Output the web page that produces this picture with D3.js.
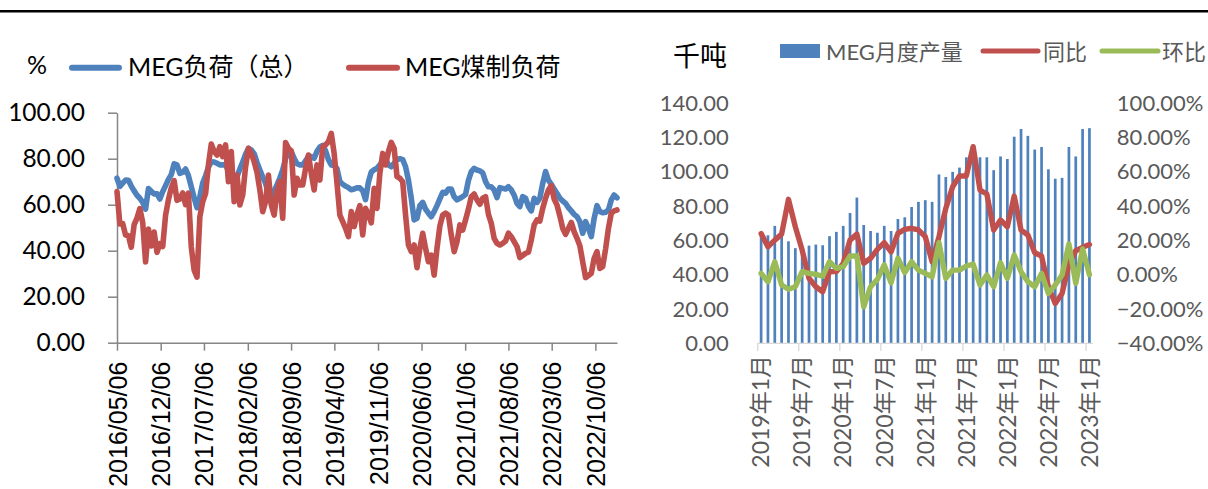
<!DOCTYPE html>
<html><head><meta charset="utf-8">
<script src="https://cdn.jsdelivr.net/npm/d3@7/dist/d3.min.js"></script>
<style>body{margin:0;background:#fff}svg{display:block}</style></head>
<body><svg id="c" width="1208" height="489"></svg>
<script>
// ---------- Left chart data (biweekly, from 2016/05/06) ----------
const leftStart = "2016-05-06";
const leftStepDays = 14;
const loadTotal = [71.5,68.0,69.4,70.7,70.6,68.1,66.0,64.1,62.8,61.0,58.1,67.0,65.8,64.7,64.7,62.5,65.7,68.3,71.0,73.1,77.8,77.3,73.6,74.1,75.5,72.6,67.8,62.9,58.7,63.5,69.4,72.6,76.3,78.7,78.6,78.0,77.3,77.3,77.3,74.8,72.8,70.7,72.2,75.5,78.6,81.9,84.5,83.8,82.2,78.4,75.1,72.0,69.3,64.7,62.8,66.0,68.6,71.6,75.1,
80.0,83.0,83.0,80.2,77.8,77.3,77.3,79.1,80.9,80.9,80.2,83.2,85.1,85.8,83.4,79.6,77.3,77.0,75.7,70.0,68.9,68.1,67.4,66.5,66.8,67.4,67.3,66.1,62.2,69.9,74.2,75.2,75.8,77.3,78.7,79.9,77.3,76.5,78.0,79.6,80.0,79.6,76.5,70.7,62.8,53.4,54.1,59.6,61.0,58.1,56.3,54.8,57.0,59.6,62.5,65.4,65.0,66.8,66.8,63.5,
62.1,62.8,63.5,64.5,70.6,74.4,75.8,75.1,74.7,73.9,70.0,67.8,67.8,66.4,63.1,67.4,67.1,66.8,67.8,66.4,64.2,60.6,59.2,63.5,62.8,59.2,57.3,62.8,61.0,62.8,69.3,74.4,70.7,68.9,66.8,64.9,62.8,61.6,60.6,58.7,57.3,55.8,54.8,52.6,47.6,52.6,49.7,46.1,54.1,59.6,57.0,56.5,56.7,57.7,62.1,64.2,63.0];
const loadCoal = [65.7,51.6,51.8,46.8,46.5,41.5,51.3,54.2,58.3,52.2,35.1,49.4,42.1,48.1,39.3,43.1,41.8,55.4,62.2,67.3,70.5,61.9,62.5,65.1,60.0,65.0,41.6,31.5,28.5,54.8,61.3,64.8,77.3,86.4,83.1,81.6,85.2,80.9,86.0,70.0,83.1,61.3,72.9,59.9,64.2,76.5,84.5,82.3,78.7,74.1,66.4,57.0,61.3,72.9,59.9,55.5,65.7,70.0,54.1,
87.0,84.5,83.4,64.2,71.5,68.6,68.6,75.8,81.6,73.6,66.4,77.3,70.7,85.2,86.0,87.4,91.0,82.3,69.3,55.5,52.6,49.7,46.1,57.0,50.5,55.8,59.6,46.8,58.4,55.8,52.1,67.1,58.4,73.6,82.3,77.3,83.1,87.1,84.5,72.2,71.5,70.0,55.5,42.5,39.6,42.5,32.6,41.0,47.6,41.0,35.2,38.1,29.4,41.0,50.7,55.5,56.3,55.5,46.8,39.6,
43.9,51.2,49.0,53.4,58.1,63.5,64.7,62.1,60.2,62.8,63.5,55.8,51.9,45.4,43.2,42.5,43.2,44.2,47.6,46.1,43.9,41.8,37.0,37.9,38.9,39.4,44.7,51.2,53.4,52.9,58.4,62.8,66.4,68.3,62.5,59.9,55.1,49.7,47.1,49.7,52.3,48.3,45.4,42.2,35.2,28.3,29.2,30.2,36.7,39.6,32.3,33.1,40.7,49.7,56.3,57.3,57.7];
const leftTickLabels = ["2016/05/06","2016/12/06","2017/07/06","2018/02/06","2018/09/06","2019/04/06","2019/11/06","2020/06/06","2021/01/06","2021/08/06","2022/03/06","2022/10/06"];
const leftYTicks = [0,20,40,60,80,100];

// ---------- Right chart data (monthly, 2019-01 .. 2023-01) ----------
const months = [];
for (let y = 2019; y <= 2023; y++) for (let m = 1; m <= 12; m++) { if (y === 2023 && m > 1) break; months.push(y + "年" + m + "月"); }
const output = [64,63,68.5,64.4,59.5,55.5,56.5,57,57.6,57.2,62.5,65,68.5,76,85,69,65.5,64.5,68.5,65.5,72.5,73.5,79.5,82.5,83.5,82.5,98.5,97,100,102.5,108.5,114.5,108.5,108.5,101,109,107.5,120.5,125,121,113,114.5,101.5,96,96.5,114.5,109,125,125.5];
const yoy = [24,16.3,20.2,23.7,44,28,14.4,-2.1,-7,-9.9,1.8,1.8,6.6,20.2,23.7,6.6,9.6,14.8,18.7,13.4,24.1,26.5,27.1,26.1,22.2,7.6,22.2,38.7,51.3,57.6,57.6,74.7,49.4,47.1,26.1,31.9,28,45.9,26.1,23.2,12.8,10.9,-7,-16.7,-10.9,6,14,16,17.6];
const mom = [0.8,-4.1,7.6,-6,-8.5,-7,1.8,0.8,0.2,-0.8,7.6,3.7,4.7,10.9,10.9,-18.7,-7,-2.7,5.7,-4.7,9.6,1.2,7.6,2.7,0.8,-1.2,18.7,-2.1,2.7,2.7,5.1,6.2,-6,-0.2,-7,7,-2.1,11.5,1.8,-4.1,-7,0.8,-10.9,-6,-0.2,18,-5,15,0];
const rightTickLabels = ["2019年1月","2019年7月","2020年1月","2020年7月","2021年1月","2021年7月","2022年1月","2022年7月","2023年1月"];
const rightYLeftTicks = [0,20,40,60,80,100,120,140];
const rightYRightTicks = [-40,-20,0,20,40,60,80,100];

// ---------- Styles ----------
const BLUE = "#4F81BD", RED = "#C0504D", GREEN = "#9BBB59";
const FONT = "Lato, 'Noto Sans CJK SC', sans-serif";
const CJK = "'Noto Sans CJK SC', sans-serif";

const svg = d3.select("#c");

// top rule
svg.append("line").attr("x1",0).attr("x2",1208).attr("y1",11.2).attr("y2",11.2)
  .attr("stroke","#000").attr("stroke-width",2.6);

// ===== LEFT CHART =====
const parse = d3.timeParse("%Y-%m-%d");
const parseTick = d3.timeParse("%Y/%m/%d");
const t0 = parse(leftStart);
const leftDates = loadTotal.map((_, i) => d3.timeDay.offset(t0, i * leftStepDays));
const xL = d3.scaleTime().domain([t0, leftDates[leftDates.length-1]]).range([117, 617]);
const yL = d3.scaleLinear().domain([0,100]).range([342.7,112.7]);

const gLy = svg.append("g").attr("transform","translate(117,0)")
  .call(d3.axisLeft(yL).tickValues(leftYTicks).tickFormat(d3.format(".2f")).tickSize(9).tickSizeOuter(0).tickPadding(23));
gLy.select(".domain").attr("stroke","#868686").attr("stroke-width",1.5);
gLy.selectAll(".tick line").attr("stroke","#868686").attr("stroke-width",1.5);
gLy.selectAll("text").attr("font-family",FONT).attr("font-size",24.5).attr("fill","#000");

const gLx = svg.append("g").attr("transform","translate(0,342.7)")
  .call(d3.axisBottom(xL).tickValues(leftTickLabels.map(s=>parseTick(s))).tickSize(8).tickSizeOuter(0)
    .tickFormat((d,i)=>leftTickLabels[i]));
gLx.select(".domain").attr("stroke","#868686").attr("stroke-width",1.5);
gLx.selectAll(".tick line").attr("stroke","#868686").attr("stroke-width",1.5);
gLx.selectAll("text").attr("font-family","'Liberation Sans', Arial, sans-serif").attr("font-size",25).attr("fill","#000")
  .attr("text-anchor","end").attr("transform","translate(0,19) rotate(-90)").attr("dy","0.36em").attr("y",0).attr("x",0);

const lineL = vals => d3.line().x((d,i)=>xL(leftDates[i])).y(d=>yL(d))(vals);
svg.append("path").attr("d",lineL(loadTotal)).attr("fill","none").attr("stroke",BLUE)
  .attr("stroke-width",5.6).attr("stroke-linejoin","round").attr("stroke-linecap","round");
svg.append("path").attr("d",lineL(loadCoal)).attr("fill","none").attr("stroke",RED)
  .attr("stroke-width",5.6).attr("stroke-linejoin","round").attr("stroke-linecap","round");

// left legend
svg.append("text").attr("x",27).attr("y",64).attr("dominant-baseline","central")
  .attr("font-family",FONT).attr("font-size",25).text("%");
svg.append("line").attr("x1",72).attr("x2",119).attr("y1",67.7).attr("y2",67.7)
  .attr("stroke",BLUE).attr("stroke-width",6).attr("stroke-linecap","round");
svg.append("text").attr("x",128).attr("y",66).attr("dominant-baseline","central")
  .attr("font-family",FONT).attr("font-size",25).text("MEG负荷（总）");
svg.append("line").attr("x1",349).attr("x2",397).attr("y1",67.7).attr("y2",67.7)
  .attr("stroke",RED).attr("stroke-width",6).attr("stroke-linecap","round");
svg.append("text").attr("x",405).attr("y",66).attr("dominant-baseline","central")
  .attr("font-family",FONT).attr("font-size",25).text("MEG煤制负荷");

// ===== RIGHT CHART =====
const xR = d3.scaleBand().domain(months).range([757.7, 757.7 + months.length*6.84]).padding(0);
const yR1 = d3.scaleLinear().domain([0,140]).range([343.3,103.3]);
const yR2 = d3.scaleLinear().domain([-40,100]).range([343.3,103.3]);
const bw = xR.bandwidth();

svg.append("g").selectAll("rect").data(output).join("rect")
  .attr("x",(d,i)=>xR(months[i]) + bw/2 - 1.35).attr("width",2.7)
  .attr("y",d=>yR1(d)).attr("height",d=>yR1(0)-yR1(d)).attr("fill",BLUE);

const gRl = svg.append("g").attr("transform",`translate(${xR.range()[0]},0)`)
  .call(d3.axisLeft(yR1).tickValues(rightYLeftTicks).tickFormat(d3.format(".2f")).tickSize(0).tickPadding(29));
gRl.select(".domain").remove();
gRl.selectAll("text").attr("font-family",FONT).attr("font-size",22).attr("fill","#595959");

const gRr = svg.append("g").attr("transform",`translate(${xR.range()[1]},0)`)
  .call(d3.axisRight(yR2).tickValues(rightYRightTicks).tickFormat(d=>d3.format(".2f")(d)+"%").tickSize(0).tickPadding(24));
gRr.select(".domain").remove();
gRr.selectAll("text").attr("font-family",FONT).attr("font-size",22).attr("fill","#595959");

// x axis
const tickIdx = rightTickLabels.map(l => months.indexOf(l));
const gRx = svg.append("g");
gRx.append("line").attr("x1",xR.range()[0]).attr("x2",xR.range()[1]).attr("y1",343.3).attr("y2",343.3)
  .attr("stroke","#D9D9D9").attr("stroke-width",1.3);
gRx.selectAll("line.tk").data(tickIdx).join("line").attr("class","tk")
  .attr("x1",i=>xR(months[i])).attr("x2",i=>xR(months[i])).attr("y1",343.3).attr("y2",351)
  .attr("stroke","#D9D9D9").attr("stroke-width",1.3);
gRx.selectAll("text").data(tickIdx).join("text")
  .attr("transform",i=>`translate(${xR(months[i])+bw/2},355) rotate(-90)`)
  .attr("text-anchor","end").attr("dy","0.36em")
  .attr("font-family",FONT).attr("font-size",23).attr("fill","#595959")
  .text(i=>months[i]);

const lineR = vals => d3.line().x((d,i)=>xR(months[i])+bw/2).y(d=>yR2(d))(vals);
svg.append("path").attr("d",lineR(yoy)).attr("fill","none").attr("stroke",RED)
  .attr("stroke-width",5.4).attr("stroke-linejoin","round").attr("stroke-linecap","round");
svg.append("path").attr("d",lineR(mom)).attr("fill","none").attr("stroke",GREEN)
  .attr("stroke-width",5.4).attr("stroke-linejoin","round").attr("stroke-linecap","round");

// right legend
svg.append("text").attr("x",673).attr("y",54).attr("dominant-baseline","central")
  .attr("font-family",CJK).attr("font-size",27).attr("fill","#000").text("千吨");
svg.append("rect").attr("x",780).attr("y",44).attr("width",40).attr("height",14).attr("fill",BLUE);
svg.append("text").attr("x",826).attr("y",51).attr("dominant-baseline","central")
  .attr("font-family",FONT).attr("font-size",22).attr("fill","#595959").text("MEG月度产量");
svg.append("line").attr("x1",983).attr("x2",1038).attr("y1",51).attr("y2",51)
  .attr("stroke",RED).attr("stroke-width",5).attr("stroke-linecap","round");
svg.append("text").attr("x",1043).attr("y",51).attr("dominant-baseline","central")
  .attr("font-family",FONT).attr("font-size",22).attr("fill","#595959").text("同比");
svg.append("line").attr("x1",1102).attr("x2",1158).attr("y1",51).attr("y2",51)
  .attr("stroke",GREEN).attr("stroke-width",5).attr("stroke-linecap","round");
svg.append("text").attr("x",1162).attr("y",51).attr("dominant-baseline","central")
  .attr("font-family",FONT).attr("font-size",22).attr("fill","#595959").text("环比");
</script></body></html>
